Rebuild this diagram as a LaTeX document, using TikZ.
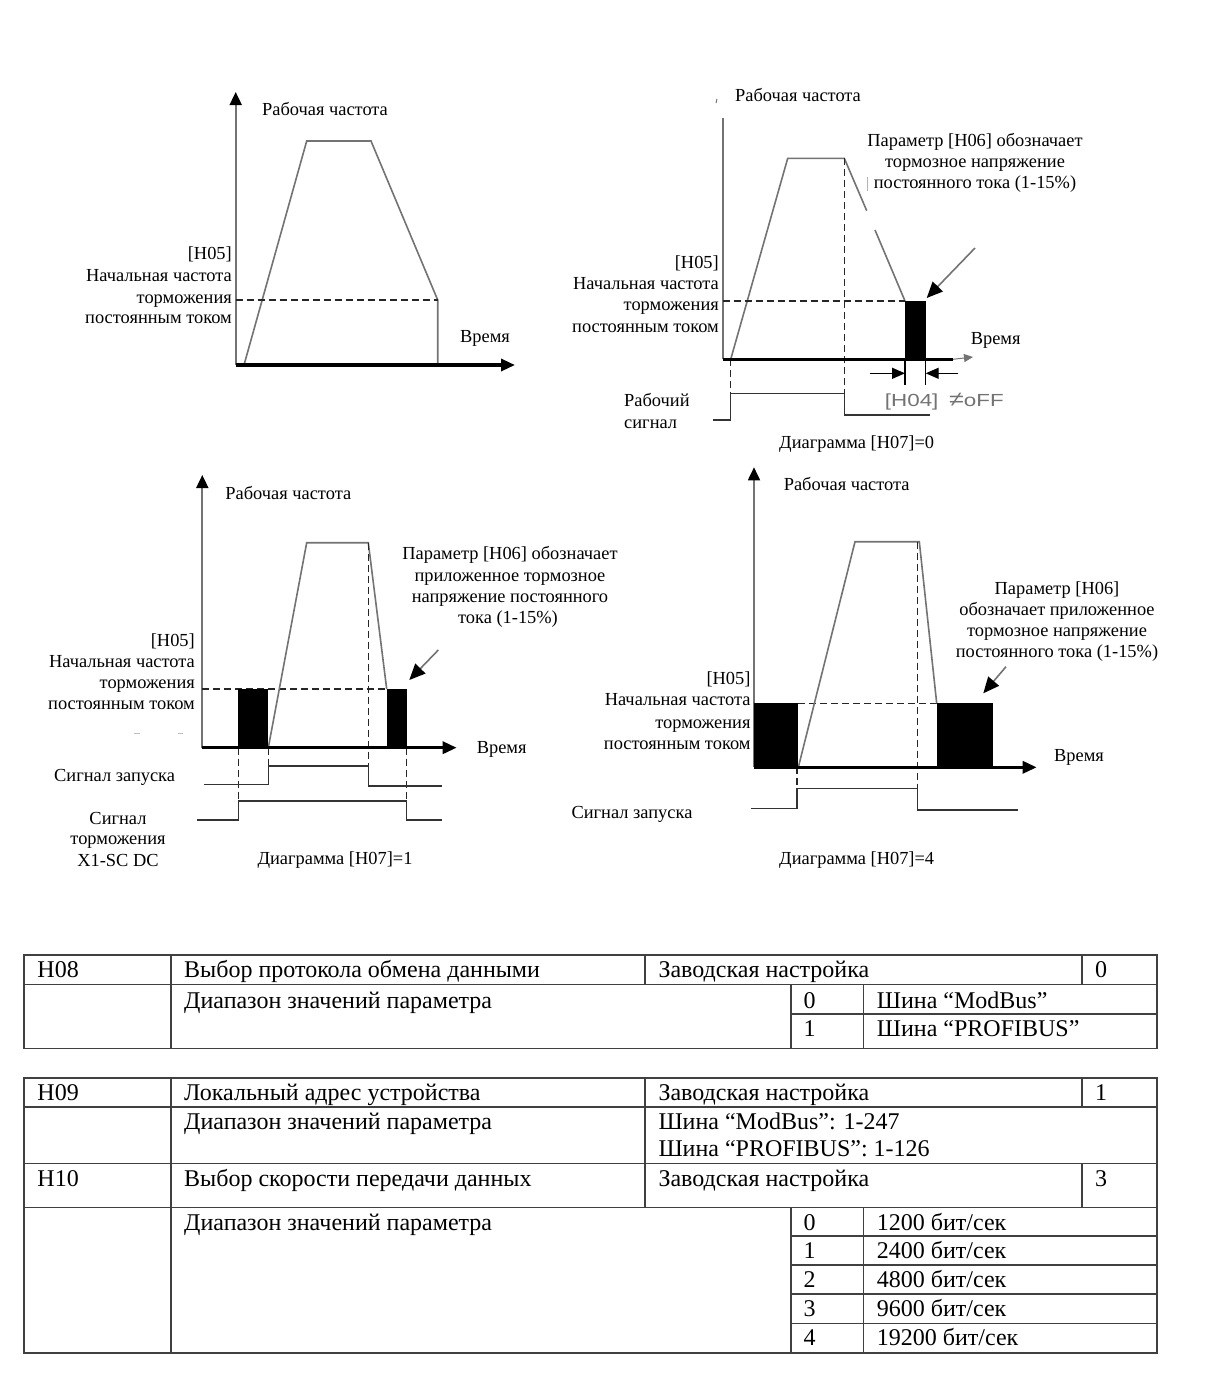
\documentclass[tikz,border=0pt]{standalone}
\usepackage{fontspec}
\setmainfont{Liberation Serif}
\newfontfamily\sansf[FakeStretch=1.28]{Liberation Sans}
\usetikzlibrary{arrows.meta}
\definecolor{trapc}{gray}{0.45}
\definecolor{h04c}{gray}{0.45}
\begin{document}
\begin{tikzpicture}[x=1pt,y=-1pt,
  lbl/.style={font=\fontsize{18.4}{21}\selectfont, inner sep=0pt, yshift=-4pt},
  cell/.style={font=\fontsize{24}{28}\selectfont, inner sep=0pt, anchor=base west},
  yax/.style={line width=1.8pt, trapc},
  xax/.style={line width=3.2pt, black},
  bigtip/.style={-{Triangle[length=14pt,width=12pt]}},
  trap/.style={line width=1.6pt, trapc},
  dsh/.style={line width=1.4pt, black!85, dash pattern=on 7pt off 4pt},
  sig/.style={line width=1.4pt, black!80},
  blk/.style={fill=black},
  ptr/.style={line width=1.6pt, trapc, -{Triangle[length=16pt,width=14pt,fill=black,color=black]}},
  tl/.style={line width=1.6pt, black!75},
  h04/.style={inner sep=0pt, font=\sansf\fontsize{17.5}{21}\selectfont, text=h04c, yshift=-2pt}
]
\useasboundingbox (0,0) rectangle (1216,1393);
\fill[white] (0,0) rectangle (1216,1393);

% ================= Diagram A (top-left)
\draw[yax,-{Triangle[length=13pt,width=12pt,color=black]}] (235.7,365) -- (235.7,92);
\draw[trap] (244,365) -- (306.7,141) -- (371,141) -- (437.7,300) -- (437.7,365);
\draw[dsh] (235.7,300) -- (437.7,300);
\draw[xax,bigtip] (235.7,365) -- (515,365);
\node[lbl,anchor=mid] (aT) at (325,109) {Рабочая частота};
\node[lbl,anchor=mid east] (a1) at (232,253.3) {[H05]};
\node[lbl,anchor=mid east] (a2) at (232,275) {Начальная частота};
\node[lbl,anchor=mid east] (a3) at (232,296.7) {торможения};
\node[lbl,anchor=mid east] (a4) at (232,317.3) {постоянным током};
\node[lbl,anchor=mid] (aV) at (485,336) {Время};

% ================= Diagram B (top-right)
\draw[yax] (722.7,359) -- (722.7,118);
\draw[line width=1pt, trapc] (716,103) -- (717,99);
\draw[trap] (730.7,359.3) -- (787.7,158.3) -- (844.3,158.3) -- (866.7,210.7);
\draw[trap] (875,230) -- (905,301);
\draw[line width=1pt, gray!60] (867,177) -- (867,191);
\draw[dsh] (722.7,301) -- (905,301);
\draw[dsh] (730.7,359.3) -- (730.7,420);
\draw[dsh] (844.3,158.3) -- (844.3,415);
\fill[blk] (905,301) rectangle (925.7,359.3);
\draw[xax] (722.7,359.3) -- (953,359.3);
\draw[line width=1pt, trapc, -{Triangle[length=9pt,width=8pt]}] (953,359.3) -- (973,357);
\draw[sig] (712.7,420) -- (730.7,420) -- (730.7,393.3) -- (844.3,393.3) -- (844.3,415) -- (930,415);
\draw[line width=1.2pt] (905,359.3) -- (905,385);
\draw[line width=1.2pt] (925.7,359.3) -- (925.7,385);
\draw[line width=1.4pt, -{Triangle[length=13pt,width=11pt]}] (870,373.3) -- (905,373.3);
\draw[line width=1.4pt, -{Triangle[length=13pt,width=11pt]}] (958,373.3) -- (925.7,373.3);
\draw[ptr] (975,248) -- (926.7,298);
\node[lbl,anchor=mid] (bT) at (798,95) {Рабочая частота};
\node[lbl,anchor=mid] (b6a) at (975,140) {Параметр [H06] обозначает};
\node[lbl,anchor=mid] (b6b) at (975,160.7) {тормозное напряжение};
\node[lbl,anchor=mid] (b6c) at (975,181.7) {постоянного тока (1-15\%)};
\node[lbl,anchor=mid east] (b1) at (719,261.7) {[H05]};
\node[lbl,anchor=mid east] (b2) at (719,282.7) {Начальная частота};
\node[lbl,anchor=mid east] (b3) at (719,304) {торможения};
\node[lbl,anchor=mid east] (b4) at (719,326) {постоянным током};
\node[lbl,anchor=mid] (bV) at (995.7,338) {Время};
\node[lbl,anchor=mid west] (bS1) at (624,400) {Рабочий};
\node[lbl,anchor=mid west] (bS2) at (624,421.7) {сигнал};
\node[lbl,anchor=mid] (bD) at (856.7,441.7) {Диаграмма [H07]=0};
\node[h04,anchor=mid] (bH4) at (911.7,401.7) {[H04]};
\node[h04,anchor=mid west] (bOff) at (949,401.7) {{\fontsize{21}{21}\selectfont ≠}oFF};

% ================= Diagram C (bottom-left)
\draw[yax,-{Triangle[length=13pt,width=12pt,color=black]}] (202.3,747.7) -- (202.3,475);
\draw[dsh] (202.3,689) -- (386.7,689);
\draw[trap] (268.3,747.7) -- (306.7,542.7) -- (368.3,542.7) -- (386.7,689);
\fill[blk] (238.3,689) rectangle (268.3,747.7);
\fill[blk] (386.7,689) rectangle (406.7,747.7);
\draw[dsh] (238.3,747.7) -- (238.3,820);
\draw[dsh] (268.3,747.7) -- (268.3,784.3);
\draw[dsh] (368.3,542.7) -- (368.3,786);
\draw[dsh] (406.7,747.7) -- (406.7,820);
\draw[xax,bigtip] (202.3,747.7) -- (456.7,747.7);
\draw[sig] (204,784.3) -- (268.3,784.3) -- (268.3,766) -- (368.3,766) -- (368.3,786) -- (441.7,786);
\draw[sig] (197.3,820) -- (238.3,820) -- (238.3,801) -- (406.7,801) -- (406.7,820) -- (441.7,820);
\draw[ptr] (438.3,650) -- (409.3,680);
\draw[line width=1pt, gray!50] (134,733) -- (140,733);
\draw[line width=1pt, gray!50] (178,733) -- (183,733);
\node[lbl,anchor=mid] (cT) at (288.3,493.3) {Рабочая частота};
\node[lbl,anchor=mid] (c6a) at (510,553.3) {Параметр [H06] обозначает};
\node[lbl,anchor=mid] (c6b) at (510,575) {приложенное тормозное};
\node[lbl,anchor=mid] (c6c) at (510,595.7) {напряжение постоянного};
\node[lbl,anchor=mid] (c6d) at (508,616.7) {тока (1-15\%)};
\node[lbl,anchor=mid east] (c1) at (195,640) {[H05]};
\node[lbl,anchor=mid east] (c2) at (195,661) {Начальная частота};
\node[lbl,anchor=mid east] (c3) at (195,682) {торможения};
\node[lbl,anchor=mid east] (c4) at (195,703.3) {постоянным током};
\node[lbl,anchor=mid] (cV) at (501.7,746.7) {Время};
\node[lbl,anchor=mid west] (cS) at (54,775) {Сигнал запуска};
\node[lbl,anchor=mid] (cB1) at (118,817.7) {Сигнал};
\node[lbl,anchor=mid] (cB2) at (118,838.3) {торможения};
\node[lbl,anchor=mid] (cB3) at (118,860) {X1-SC DC};
\node[lbl,anchor=mid] (cD) at (335,858.3) {Диаграмма [H07]=1};

% ================= Diagram D (bottom-right)
\draw[yax,-{Triangle[length=13pt,width=12pt,color=black]}] (754,767.3) -- (754,467.3);
\draw[dsh] (798.3,703.3) -- (936.7,703.3);
\draw[trap] (798.3,767.3) -- (855,541.7) -- (919.3,541.7) -- (936.7,703.3);
\fill[blk] (754,703.3) rectangle (798.3,767.3);
\fill[blk] (936.7,703.3) rectangle (992.7,767.3);
\draw[dsh] (797,767.3) -- (797,788.3);
\draw[dsh] (917.3,541.7) -- (917.3,810);
\draw[xax,bigtip] (754,767.3) -- (1036.7,767.3);
\draw[sig] (750.7,808.3) -- (797,808.3) -- (797,788.3) -- (917.3,788.3) -- (917.3,810) -- (1018.3,810);
\draw[ptr] (1006,666.7) -- (983.3,693.3);
\node[lbl,anchor=mid] (dT) at (846.7,484) {Рабочая частота};
\node[lbl,anchor=mid] (d6a) at (1057,588) {Параметр [H06]};
\node[lbl,anchor=mid] (d6b) at (1057,609) {обозначает приложенное};
\node[lbl,anchor=mid] (d6c) at (1057,630) {тормозное напряжение};
\node[lbl,anchor=mid] (d6d) at (1057,651) {постоянного тока (1-15\%)};
\node[lbl,anchor=mid east] (d1) at (750.7,678.3) {[H05]};
\node[lbl,anchor=mid east] (d2) at (750.7,699.3) {Начальная частота};
\node[lbl,anchor=mid east] (d3) at (750.7,721.7) {торможения};
\node[lbl,anchor=mid east] (d4) at (750.7,742.7) {постоянным током};
\node[lbl,anchor=mid] (dV) at (1079,755) {Время};
\node[lbl,anchor=mid] (dS) at (632,812) {Сигнал запуска};
\node[lbl,anchor=mid] (dD) at (856.7,858.3) {Диаграмма [H07]=4};

% ================= Table H08
\draw[tl] (24,955) rectangle (1156.7,1048.3);
\draw[tl] (24,984.3) -- (1156.7,984.3);
\draw[tl] (170.7,955) -- (170.7,1048.3);
\draw[tl] (645,955) -- (645,984.3);
\draw[tl] (1081.7,955) -- (1081.7,984.3);
\draw[tl] (791,984.3) -- (791,1048.3);
\draw[tl] (863.3,984.3) -- (863.3,1048.3);
\draw[tl] (791,1014) -- (1156.7,1014);
\node[cell] (t1a) at (37.3,977.3) {H08};
\node[cell] (t1b) at (184,977.3) {Выбор протокола обмена данными};
\node[cell] (t1c) at (658.3,977.3) {Заводская настройка};
\node[cell] (t1d) at (1095,977.3) {0};
\node[cell] (t1e) at (184,1008.3) {Диапазон значений параметра};
\node[cell] (t1f) at (803.3,1008.3) {0};
\node[cell] (t1g) at (876.7,1008.3) {Шина “ModBus”};
\node[cell] (t1h) at (803.3,1036.7) {1};
\node[cell] (t1i) at (876.7,1036.7) {Шина “PROFIBUS”};

% ================= Table H09/H10
\draw[tl] (24,1077.7) rectangle (1156.7,1352.7);
\draw[tl] (24,1106.7) -- (1156.7,1106.7);
\draw[tl] (24,1163.3) -- (1156.7,1163.3);
\draw[tl] (24,1207.3) -- (1156.7,1207.3);
\draw[tl] (170.7,1077.7) -- (170.7,1352.7);
\draw[tl] (645,1077.7) -- (645,1207.3);
\draw[tl] (1082,1077.7) -- (1082,1106.7);
\draw[tl] (1082,1163.3) -- (1082,1207.3);
\draw[tl] (791,1207.3) -- (791,1352.7);
\draw[tl] (863.3,1207.3) -- (863.3,1352.7);
\foreach \yy in {1236,1265,1294,1323.3} \draw[tl] (791,\yy) -- (1156.7,\yy);
\node[cell] (t2a) at (37.3,1100) {H09};
\node[cell] (t2b) at (184,1100) {Локальный адрес устройства};
\node[cell] (t2c) at (658.3,1100) {Заводская настройка};
\node[cell] (t2d) at (1095,1100) {1};
\node[cell] (t2e) at (184,1129.3) {Диапазон значений параметра};
\node[cell] (t2f) at (658.3,1129.3) {Шина “ModBus”: 1-247};
\node[cell] (t2g) at (658.3,1156.7) {Шина “PROFIBUS”: 1-126};
\node[cell] (t3a) at (37.3,1186.7) {H10};
\node[cell] (t3b) at (184,1186.7) {Выбор скорости передачи данных};
\node[cell] (t3c) at (658.3,1186.7) {Заводская настройка};
\node[cell] (t3d) at (1095,1186.7) {3};
\node[cell] (t3e) at (184,1230) {Диапазон значений параметра};
\node[cell] (r0a) at (803.3,1230) {0};
\node[cell] (r0b) at (876.7,1230) {1200 бит/сек};
\node[cell] (r1a) at (803.3,1258.3) {1};
\node[cell] (r1b) at (876.7,1258.3) {2400 бит/сек};
\node[cell] (r2a) at (803.3,1287) {2};
\node[cell] (r2b) at (876.7,1287) {4800 бит/сек};
\node[cell] (r3a) at (803.3,1316.7) {3};
\node[cell] (r3b) at (876.7,1316.7) {9600 бит/сек};
\node[cell] (r4a) at (803.3,1345) {4};
\node[cell] (r4b) at (876.7,1345) {19200 бит/сек};
\end{tikzpicture}
\end{document}
